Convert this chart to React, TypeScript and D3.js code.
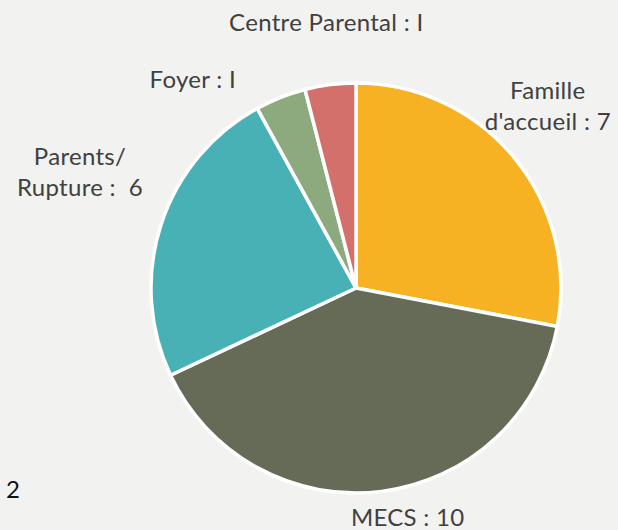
import * as d3 from 'd3';
import React, { useEffect, useRef } from 'react';

const categories = ["Famille d'accueil", 'MECS', 'Parents/ Rupture', 'Foyer', 'Centre Parental'];
const values = [7, 10, 6, 1, 1];
const labelLines = [
  ['Famille', "d'accueil : 7"],
  ['MECS : 10'],
  ['Parents/', 'Rupture :  6'],
  ['Foyer : I'],
  ['Centre Parental : I'],
];
const colors = ['#F6B223', '#656B57', '#48B1B5', '#8DAA7E', '#D4706B'];

// hand placement of labels relative to the slice centroid (layout only)
const labelNudge = [
  [3, -33],
  [21, -5],
  [-43, -47],
  [-73, 28],
  [1, -14],
];

const W = 618;
const H = 530;

const App: React.FC = () => {
  const ref = useRef<SVGSVGElement | null>(null);

  useEffect(() => {
    if (!ref.current) return;
    const svg = d3.select(ref.current);
    svg.selectAll('*').remove();

    svg.append('rect').attr('width', W).attr('height', H).attr('fill', '#F2F2F1');

    const cx = 356;
    const cy = 288;
    const radius = 205;

    const data = categories.map((c, i) => ({ name: c, value: values[i], i }));
    const pie = d3
      .pie<{ name: string; value: number; i: number }>()
      .value((d) => d.value)
      .sort(null);
    const arcs = pie(data);

    const arc = d3
      .arc<d3.PieArcDatum<{ name: string; value: number; i: number }>>()
      .innerRadius(0)
      .outerRadius(radius);
    const labelArc = d3
      .arc<d3.PieArcDatum<{ name: string; value: number; i: number }>>()
      .innerRadius(245)
      .outerRadius(245);

    const g = svg.append('g').attr('transform', `translate(${cx},${cy})`);

    g.selectAll('path')
      .data(arcs)
      .enter()
      .append('path')
      .attr('d', arc)
      .attr('fill', (d) => colors[d.data.i])
      .attr('stroke', '#fff')
      .attr('stroke-width', 3.5)
      .attr('stroke-linejoin', 'round');

    const labels = g
      .selectAll('text.lbl')
      .data(arcs)
      .enter()
      .append('text')
      .attr('class', 'lbl')
      .attr('text-anchor', 'middle')
      .attr('font-family', 'Lato, sans-serif')
      .attr('font-size', 24)
      .attr('letter-spacing', 0.3)
      .attr('fill', '#404040')
      .attr('transform', (d) => {
        const [x, y] = labelArc.centroid(d);
        const [dx, dy] = labelNudge[d.data.i];
        return `translate(${x + dx},${y + dy})`;
      });

    labels.each(function (d) {
      const t = d3.select(this);
      labelLines[d.data.i].forEach((line, k) => {
        t.append('tspan')
          .attr('x', 0)
          .attr('y', k * 31)
          .style('white-space', 'pre')
          .text(line);
      });
    });

    svg
      .append('text')
      .attr('x', 6)
      .attr('y', 498)
      .attr('font-family', 'Lato, sans-serif')
      .attr('font-size', 24)
      .attr('fill', '#111')
      .text('2');
  }, []);

  return (
    <svg
      ref={ref}
      width={W}
      height={H}
      style={{ position: 'absolute', left: 0, top: 0 }}
    />
  );
};

export default App;
